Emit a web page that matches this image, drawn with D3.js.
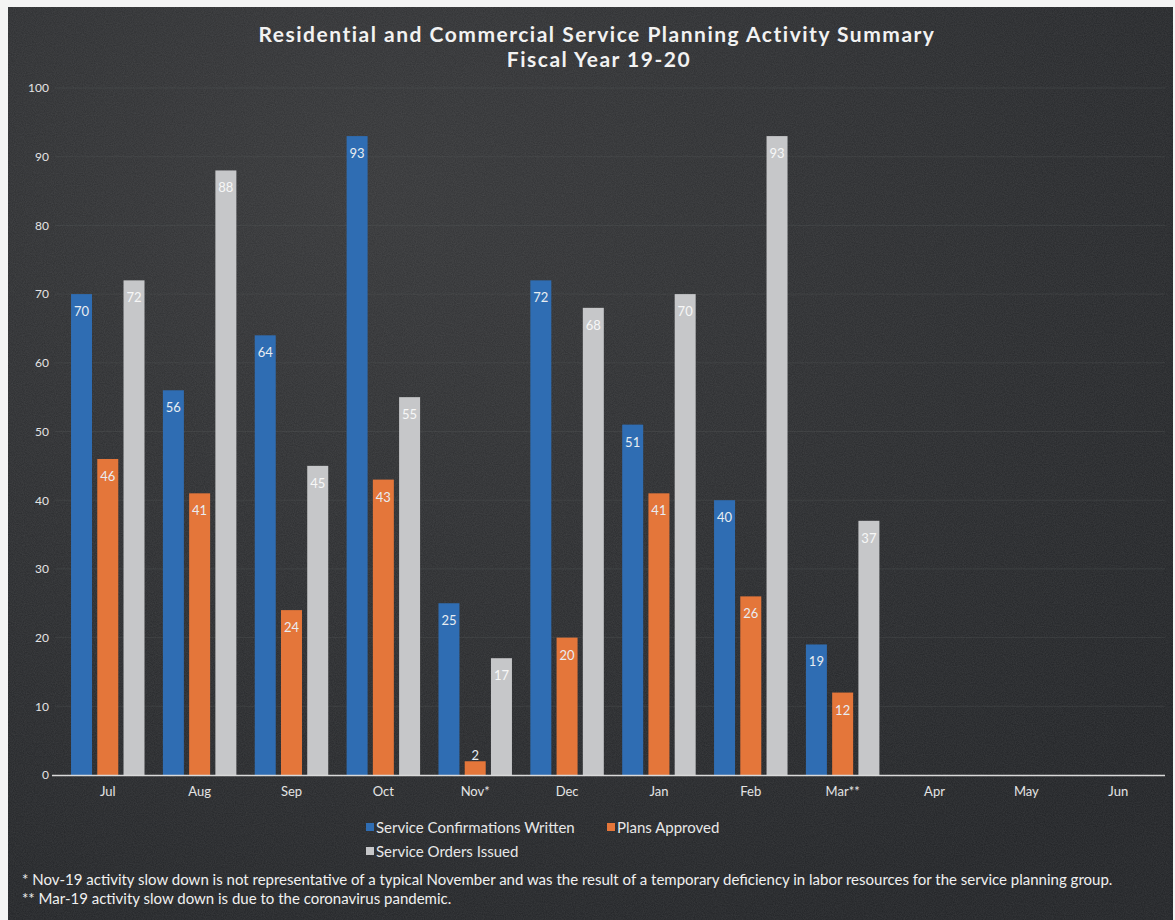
<!doctype html>
<html lang="en">
<head>
  <meta charset="utf-8">
  <title>Residential and Commercial Service Planning Activity Summary</title>
  <style>
    body { margin: 0; background: #f4f4f4; }
    svg { display: block; }
    text { font-family: Lato, "Open Sans", sans-serif; }
  </style>
</head>
<body>
  <script src="https://cdn.jsdelivr.net/npm/d3@7"></script>
  <script>
    // data
    var months = ['Jul', 'Aug', 'Sep', 'Oct', 'Nov*', 'Dec', 'Jan', 'Feb', 'Mar**', 'Apr', 'May', 'Jun']
    var seriesNames = ['Service Confirmations Written', 'Plans Approved', 'Service Orders Issued']
    var confirmations = [70, 56, 64, 93, 25, 72, 51, 40, 19, null, null, null]
    var plansApproved = [46, 41, 24, 43, 2, 20, 41, 26, 12, null, null, null]
    var ordersIssued = [72, 88, 45, 55, 17, 68, 70, 93, 37, null, null, null]
    var yTicks = [0, 10, 20, 30, 40, 50, 60, 70, 80, 90, 100]
    var colors = ['#2f6db3', '#e4763a', '#c6c7c9']
    var footnotes = [
      '* Nov-19 activity slow down is not representative  of a typical November and was the result of a temporary deficiency in labor resources for the service planning group.',
      '** Mar-19 activity slow down is due to the coronavirus pandemic.'
    ]

    var W = 1175, H = 920
    var values = [confirmations, plansApproved, ordersIssued]

    var svg = d3.select('body').append('svg')
      .attr('width', W)
      .attr('height', H)

    var defs = svg.append('defs')
    var grad = defs.append('radialGradient')
      .attr('id', 'bg')
      .attr('cx', '30%').attr('cy', '20%').attr('r', '90%')
    grad.append('stop').attr('offset', '0%').attr('stop-color', '#38393b')
    grad.append('stop').attr('offset', '100%').attr('stop-color', '#242629')

    var noise = defs.append('filter').attr('id', 'grain')
      .attr('x', 0).attr('y', 0).attr('width', '100%').attr('height', '100%')
    noise.append('feTurbulence')
      .attr('type', 'fractalNoise')
      .attr('baseFrequency', 0.9)
      .attr('numOctaves', 2)
      .attr('seed', 3)
    noise.append('feColorMatrix')
      .attr('type', 'matrix')
      .attr('values', '0 0 0 0 0.6  0 0 0 0 0.6  0 0 0 0 0.6  0 0 0 0.35 -0.05')

    // dark panel (scan has a light border top/left)
    svg.append('rect')
      .attr('x', 8).attr('y', 7)
      .attr('width', W - 10).attr('height', H - 7)
      .attr('fill', 'url(#bg)')
    svg.append('rect')
      .attr('x', 8).attr('y', 7)
      .attr('width', W - 10).attr('height', H - 7)
      .attr('filter', 'url(#grain)')
      .attr('opacity', 0.4)

    var title = svg.append('text')
      .attr('x', 597)
      .attr('text-anchor', 'middle')
      .style('font-weight', 'bold')
      .style('font-size', '21px')
      .style('letter-spacing', '1.5px')
      .attr('fill', '#f2f2f2')
    title.append('tspan').attr('x', 597).attr('y', 42)
      .text('Residential and Commercial Service Planning Activity Summary')
    title.append('tspan').attr('x', 599).attr('y', 67)
      .text('Fiscal Year 19-20')

    var y = d3.scaleLinear()
      .domain([0, 100])
      .range([775, 88])

    var x0 = d3.scaleBand()
      .domain(months)
      .range([60, 1166])
      .paddingInner(0.2)
      .paddingOuter(0.12)

    var x1 = d3.scaleBand()
      .domain(d3.range(seriesNames.length))
      .range([0, x0.bandwidth()])
      .paddingInner(0.2)

    // faint gridlines
    svg.append('g')
      .selectAll('line')
      .data(yTicks.slice(1))
      .enter().append('line')
      .attr('x1', 55).attr('x2', 1165)
      .attr('y1', function(d) { return y(d) })
      .attr('y2', function(d) { return y(d) })
      .attr('stroke', '#5a5c5e')
      .attr('stroke-opacity', 0.3)
      .attr('stroke-width', 1)

    var yAxis = d3.axisLeft(y)
      .tickValues(yTicks)
      .tickSize(0)
      .tickPadding(0)

    svg.append('g')
      .attr('class', 'y axis')
      .attr('transform', 'translate(49, 0)')
      .call(yAxis)
      .call(function(g) { g.select('.domain').remove() })
      .selectAll('text')
        .attr('fill', '#e4e4e4')
        .style('font-family', 'Lato, sans-serif')
        .style('font-size', '12px')

    var groups = svg.append('g')
      .selectAll('.month')
      .data(months)
      .enter().append('g')
      .attr('class', 'month')
      .attr('transform', function(d) { return 'translate(' + x0(d) + ', 0)' })

    var bars = groups.selectAll('.bar')
      .data(function(d, i) {
        return values.map(function(v, s) { return { s: s, v: v[i] } })
          .filter(function(o) { return o.v != null })
      })
      .enter().append('g')
      .attr('class', 'bar')

    bars.append('rect')
      .attr('x', function(d) { return x1(d.s) })
      .attr('y', function(d) { return y(d.v) })
      .attr('width', x1.bandwidth())
      .attr('height', function(d) { return y(0) - y(d.v) })
      .attr('fill', function(d) { return colors[d.s] })

    bars.append('text')
      .attr('x', function(d) { return x1(d.s) + x1.bandwidth() / 2 })
      .attr('y', function(d) { return d.v < 5 ? y(d.v) - 1 : y(d.v) + 22 })
      .attr('text-anchor', 'middle')
      .attr('fill', function(d) { return d.s === 2 ? '#f7f7f7' : '#e9edf2' })
      .style('font-size', '13px')
      .text(function(d) { return d.v })

    var xAxis = d3.axisBottom(x0)
      .tickSize(0)
      .tickPadding(12)

    var xg = svg.append('g')
      .attr('class', 'x axis')
      .attr('transform', 'translate(0, ' + y(0) + ')')
      .call(xAxis)
    xg.select('.domain')
      .attr('d', 'M52,0.5H1165')
      .attr('stroke', '#d9d9d9')
      .attr('stroke-width', 1.5)
    xg.selectAll('text')
      .attr('fill', '#e4e4e4')
      .style('font-family', 'Lato, sans-serif')
      .style('font-size', '13px')

    // legend
    var legendPos = [[366, 828], [607, 828], [366, 852]]
    var legend = svg.append('g')
      .selectAll('.legend')
      .data(seriesNames)
      .enter().append('g')
      .attr('class', 'legend')
      .attr('transform', function(d, i) { return 'translate(' + legendPos[i][0] + ', ' + legendPos[i][1] + ')' })
    legend.append('rect')
      .attr('x', 0).attr('y', -5)
      .attr('width', 8).attr('height', 8)
      .attr('fill', function(d, i) { return colors[i] })
    legend.append('text')
      .attr('x', 10).attr('y', 5)
      .attr('fill', '#e8e8e8')
      .style('font-size', '15px')
      .text(function(d) { return d })

    svg.append('g')
      .selectAll('text')
      .data(footnotes)
      .enter().append('text')
      .attr('x', 22)
      .attr('y', function(d, i) { return 885 + i * 19 })
      .attr('fill', '#f0f0f0')
      .style('font-size', '15px')
      .text(function(d) { return d })
  </script>
</body>
</html>
